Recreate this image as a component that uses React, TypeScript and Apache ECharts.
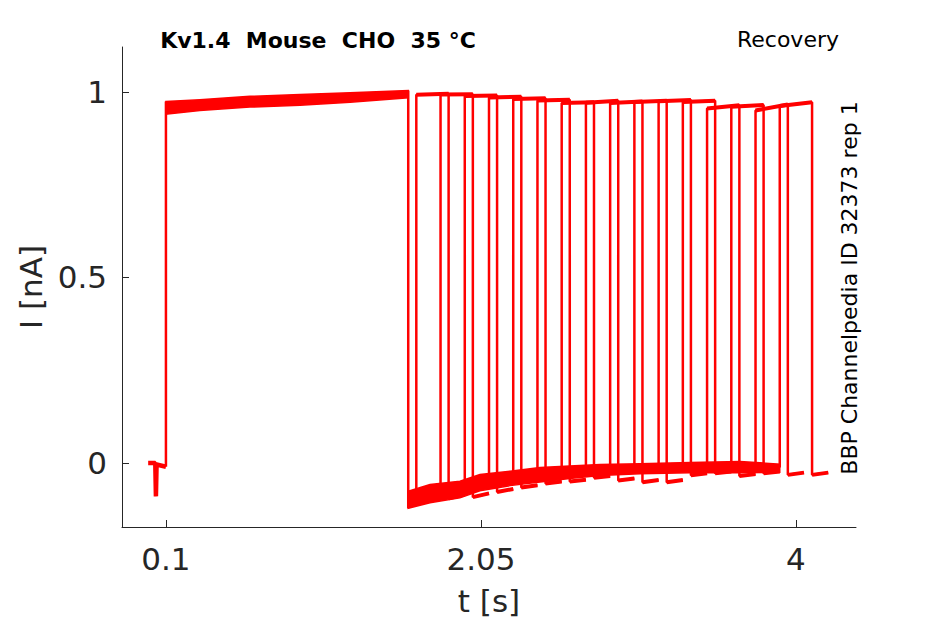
import React, { useEffect, useRef } from "react";
import * as echarts from "echarts";

// ---- axis ticks ----
const xTickValues = [0.1, 2.05, 4];
const yTickValues = [0, 0.5, 1];

// ---- holding period (before the first pulse) ----
const holdTimes = [-0.01, 0.034, 0.038, 0.042, 0.1];
const holdValues = [0.0, 0.0, -0.09, -0.004, -0.01];

// ---- first (conditioning) pulse band: upper / lower envelope ----
const p1Times = [0.1, 0.31, 0.62, 0.93, 1.24, 1.6];
const p1Upper = [0.974, 0.979, 0.988, 0.993, 0.998, 1.004];
const p1Lower = [0.94, 0.95, 0.959, 0.964, 0.972, 0.984];

// ---- recovery interval band: upper / lower envelope ----
const recTimes = [1.6, 1.735, 1.92, 2.044, 2.23, 2.416, 2.6, 2.787, 3.035, 3.345, 3.654, 3.9];
const recUpper = [-0.076, -0.058, -0.049, -0.031, -0.022, -0.012, -0.008, -0.004, -0.002, 0.001, 0.004, -0.003];
const recLower = [-0.122, -0.107, -0.094, -0.075, -0.061, -0.051, -0.042, -0.034, -0.029, -0.026, -0.026, -0.025];

// ---- test pulses, one per sweep ----
const riseTimes = [1.65, 1.8, 1.95, 2.1, 2.25, 2.4, 2.55, 2.7, 2.85, 3.0, 3.15, 3.3, 3.45, 3.6, 3.75, 3.9];
const fallTimes = [1.85, 2.0, 2.15, 2.3, 2.45, 2.6, 2.75, 2.9, 3.05, 3.2, 3.35, 3.5, 3.65, 3.8, 3.95, 4.1];
const endTimes = [1.95, 2.1, 2.25, 2.4, 2.55, 2.7, 2.85, 3.0, 3.15, 3.3, 3.45, 3.6, 3.75, 3.9, 4.05, 4.2];
const preRise = [-0.1, -0.085, -0.07, -0.055, -0.045, -0.035, -0.028, -0.022, -0.018, -0.015, -0.013, -0.012, -0.01, -0.01, -0.01, -0.012];
const testStart = [0.992, 0.993, 0.989, 0.985, 0.981, 0.977, 0.97, 0.971, 0.97, 0.973, 0.975, 0.973, 0.955, 0.96, 0.95, 0.962];
const testEnd = [0.995, 0.994, 0.99, 0.987, 0.983, 0.979, 0.972, 0.976, 0.974, 0.976, 0.978, 0.976, 0.964, 0.965, 0.966, 0.972];
const tailStart = [-0.095, -0.092, -0.078, -0.066, -0.055, -0.05, -0.04, -0.047, -0.052, -0.052, -0.033, -0.028, -0.035, -0.028, -0.032, -0.032];
const tailEnd = [-0.085, -0.082, -0.07, -0.06, -0.05, -0.045, -0.035, -0.042, -0.046, -0.046, -0.028, -0.023, -0.03, -0.023, -0.026, -0.026];

const RED = "#ff0000";
const AXIS = "#262626";
const FONT = '"DejaVu Sans", "Liberation Sans", sans-serif';

function zip(t: number[], v: number[]) {
  return t.map((x, i) => [x, v[i]]);
}

function bandSeries(name: string, times: number[], upper: number[], lower: number[]) {
  return {
    name,
    type: "custom",
    silent: true,
    data: [[times[0], upper[0]]],
    renderItem: (_params: any, api: any) => {
      const pts: number[][] = [];
      for (let i = 0; i < times.length; i++) pts.push(api.coord([times[i], upper[i]]));
      for (let i = times.length - 1; i >= 0; i--) pts.push(api.coord([times[i], lower[i]]));
      return {
        type: "polygon",
        shape: { points: pts },
        style: { fill: RED, stroke: RED, lineWidth: 1.5 },
      };
    },
  };
}

export default function App() {
  const ref = useRef<HTMLDivElement>(null);

  useEffect(() => {
    if (!ref.current) return;
    const chart = echarts.init(ref.current, undefined, { renderer: "svg" });

    const lineBase = {
      type: "line",
      showSymbol: false,
      symbol: "none",
      silent: true,
      color: RED,
    };

    const series: any[] = [];
    series.push({
      ...lineBase,
      name: "hold",
      data: zip(holdTimes, holdValues),
      lineStyle: { color: RED, width: 4.5 },
    });
    series.push({
      ...lineBase,
      name: "onset",
      data: [
        [p1Times[0], holdValues[holdValues.length - 1]],
        [p1Times[0], p1Upper[0]],
      ],
      lineStyle: { color: RED, width: 2.5 },
    });
    series.push(bandSeries("pulse1", p1Times, p1Upper, p1Lower));
    series.push({
      ...lineBase,
      name: "offset",
      data: [
        [p1Times[p1Times.length - 1], p1Upper[p1Upper.length - 1]],
        [recTimes[0], recLower[0]],
      ],
      lineStyle: { color: RED, width: 2.5 },
    });
    series.push(bandSeries("recovery", recTimes, recUpper, recLower));

    riseTimes.forEach((r, k) => {
      series.push({
        ...lineBase,
        name: "sweep" + (k + 1),
        data: [
          [r, preRise[k]],
          [r, testStart[k]],
          [fallTimes[k], testEnd[k]],
          [fallTimes[k], tailStart[k]],
          [endTimes[k], tailEnd[k]],
        ],
        lineStyle: { color: RED, width: 2.5 },
      });
      series.push({
        ...lineBase,
        name: "sweep" + (k + 1) + " test",
        data: [
          [r, testStart[k]],
          [fallTimes[k], testEnd[k]],
        ],
        lineStyle: { color: RED, width: 4 },
      });
      series.push({
        ...lineBase,
        name: "sweep" + (k + 1) + " tail",
        data: [
          [fallTimes[k], tailStart[k]],
          [endTimes[k], tailEnd[k]],
        ],
        lineStyle: { color: RED, width: 4 },
      });
    });

    const option: any = {
      animation: false,
      backgroundColor: "#ffffff",
      grid: { left: 122, right: 89, top: 47, bottom: 97, containLabel: false },
      xAxis: {
        type: "value",
        min: -0.172,
        max: 4.372,
        name: "t [s]",
        nameLocation: "middle",
        nameGap: 58,
        nameTextStyle: { fontSize: 31, color: AXIS, fontFamily: FONT },
        axisLine: { show: true, onZero: false, lineStyle: { color: AXIS, width: 1 } },
        axisTick: {
          show: true,
          inside: true,
          length: 7,
          customValues: xTickValues,
          lineStyle: { color: AXIS, width: 1 },
        },
        axisLabel: {
          show: true,
          customValues: xTickValues,
          fontSize: 31,
          color: AXIS,
          fontFamily: FONT,
          margin: 16,
          formatter: (v: number) => String(v),
        },
        splitLine: { show: false },
      },
      yAxis: {
        type: "value",
        min: -0.1725,
        max: 1.121,
        name: "I [nA]",
        nameLocation: "middle",
        nameGap: 76,
        nameTextStyle: { fontSize: 31, color: AXIS, fontFamily: FONT },
        axisLine: { show: true, onZero: false, lineStyle: { color: AXIS, width: 1 } },
        axisTick: {
          show: true,
          inside: true,
          length: 7,
          customValues: yTickValues,
          lineStyle: { color: AXIS, width: 1 },
        },
        axisLabel: {
          show: true,
          customValues: yTickValues,
          fontSize: 31,
          color: AXIS,
          fontFamily: FONT,
          margin: 15,
          formatter: (v: number) => String(v),
        },
        splitLine: { show: false },
      },
      graphic: [
        {
          type: "text",
          x: 318,
          y: 40,
          style: {
            text: "Kv1.4  Mouse  CHO  35 °C",
            fontSize: 22,
            fontWeight: "bold",
            fontFamily: FONT,
            fill: "#000000",
            align: "center",
            verticalAlign: "middle",
          },
        },
        {
          type: "text",
          x: 839,
          y: 39,
          style: {
            text: "Recovery",
            fontSize: 22,
            fontFamily: FONT,
            fill: "#000000",
            align: "right",
            verticalAlign: "middle",
          },
        },
        {
          type: "text",
          x: 849,
          y: 288,
          rotation: Math.PI / 2,
          style: {
            text: "BBP Channelpedia ID 32373 rep 1",
            fontSize: 22,
            fontFamily: FONT,
            fill: "#000000",
            align: "center",
            verticalAlign: "middle",
          },
        },
      ],
      series,
    };

    chart.setOption(option);
    return () => chart.dispose();
  }, []);

  return (
    <div
      ref={ref}
      style={{ position: "fixed", left: 0, top: 0, width: 945, height: 624, background: "#fff" }}
    />
  );
}
